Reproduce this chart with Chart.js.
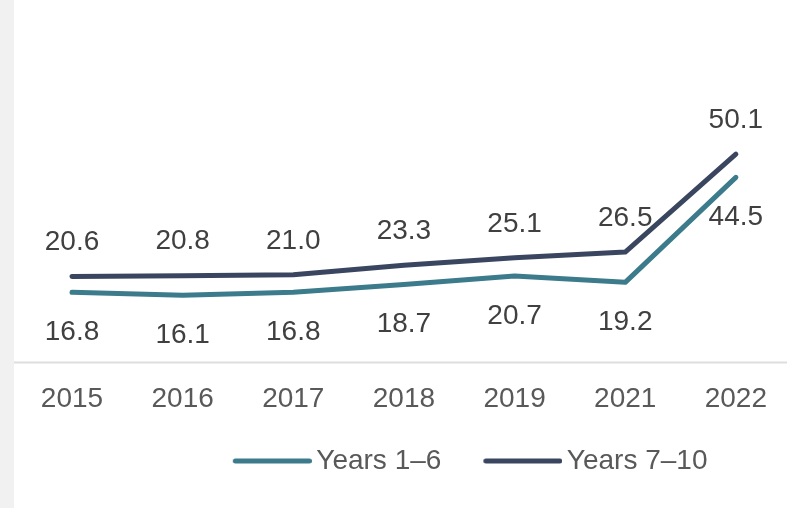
<!DOCTYPE html>
<html><head><meta charset="utf-8">
<script src="https://cdn.jsdelivr.net/npm/chart.js@4.4.0/dist/chart.umd.min.js"></script>
<style>
html,body{margin:0;padding:0;background:#fff;overflow:hidden;}
#strip{position:absolute;left:0;top:0;width:14px;height:508px;background:#f1f1f1;}
#wrap{position:absolute;left:14px;top:0;width:773px;height:508px;}
</style></head><body>
<div id="strip"></div>
<div id="wrap"><canvas id="c"></canvas></div>
<script>
const categories = ['2015','2016','2017','2018','2019','2021','2022'];
const years1to6 = [16.8, 16.1, 16.8, 18.7, 20.7, 19.2, 44.5];
const years7to10 = [20.6, 20.8, 21.0, 23.3, 25.1, 26.5, 50.1];
const seriesNames = ['Years 1–6', 'Years 7–10'];
const seriesColors = ['#3c7b8b', '#3a4660'];
const FONT = "'Liberation Sans', Arial, sans-serif";

function legendMark(color) {
  const cv = document.createElement('canvas');
  cv.width = 98; cv.height = 8;
  const g = cv.getContext('2d');
  g.strokeStyle = color; g.lineWidth = 5; g.lineCap = 'round';
  g.beginPath(); g.moveTo(21.5, 4); g.lineTo(95.5, 4); g.stroke();
  return cv;
}

const baselinePlugin = {
  id: 'baseline',
  beforeDatasetsDraw(chart) {
    const y = Math.round(chart.scales.y.getPixelForValue(0)) + 0.5;
    const ctx = chart.ctx;
    ctx.save();
    ctx.strokeStyle = '#dedede'; ctx.lineWidth = 2;
    ctx.beginPath(); ctx.moveTo(0, y); ctx.lineTo(chart.width, y); ctx.stroke();
    ctx.restore();
  }
};

const labelPlugin = {
  id: 'valueLabels',
  afterDatasetsDraw(chart) {
    const ctx = chart.ctx;
    ctx.save();
    ctx.font = '28px ' + FONT;
    ctx.fillStyle = '#404040';
    ctx.textAlign = 'center';
    ctx.textBaseline = 'middle';
    chart.data.datasets.forEach((ds, i) => {
      const meta = chart.getDatasetMeta(i);
      const off = ds.labelOffset;
      meta.data.forEach((pt, j) => {
        ctx.fillText(ds.data[j].toFixed(1), pt.x, pt.y + off);
      });
    });
    ctx.restore();
  }
};

new Chart(document.getElementById('c'), {
  type: 'line',
  data: {
    labels: categories,
    datasets: [
      { label: seriesNames[0], data: years1to6, borderColor: seriesColors[0], backgroundColor: seriesColors[0],
        borderWidth: 5, pointRadius: 0, tension: 0, borderCapStyle: 'round', borderJoinStyle: 'round', clip: false, labelOffset: 40 },
      { label: seriesNames[1], data: years7to10, borderColor: seriesColors[1], backgroundColor: seriesColors[1],
        borderWidth: 5, pointRadius: 0, tension: 0, borderCapStyle: 'round', borderJoinStyle: 'round', clip: false, labelOffset: -34 }
    ]
  },
  options: {
    responsive: true,
    maintainAspectRatio: false,
    animation: false,
    events: [],
    layout: { padding: { top: 30, left: 58, right: 47, bottom: 23 } },
    scales: {
      x: {
        offset: false,
        grid: { display: false, drawTicks: false },
        border: { display: false },
        ticks: { color: '#595959', font: { family: FONT, size: 28 }, padding: 20, maxRotation: 0, autoSkip: false },
        afterFit(scale) { scale.height = 52.5; }
      },
      y: { display: false, min: 0, max: 80 }
    },
    plugins: {
      tooltip: { enabled: false },
      legend: {
        position: 'bottom',
        align: 'end',
        labels: {
          usePointStyle: true,
          pointStyleWidth: 79,
          boxHeight: 8,
          padding: 32.5,
          color: '#595959',
          font: { family: FONT, size: 28, lineHeight: 1.0 },
          generateLabels(chart) {
            return chart.data.datasets.map((ds, i) => ({
              text: ds.label, fillStyle: ds.borderColor, strokeStyle: ds.borderColor,
              lineWidth: 0, pointStyle: legendMark(ds.borderColor), fontColor: '#595959',
              hidden: false, datasetIndex: i
            }));
          }
        }
      }
    }
  },
  plugins: [baselinePlugin, labelPlugin]
});
</script>
</body></html>
